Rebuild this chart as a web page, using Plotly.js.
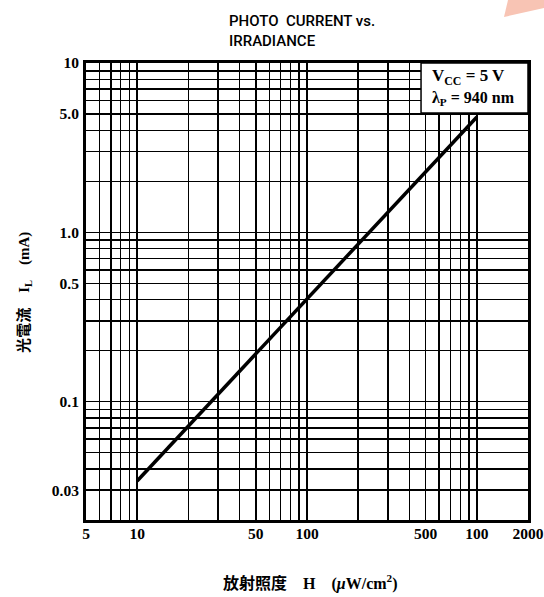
<!DOCTYPE html>
<html>
<head>
<meta charset="utf-8">
<script src="https://cdn.plot.ly/plotly-3.0.1.min.js"></script>
<style>html,body{margin:0;padding:0;background:#fff;}#chart{width:544px;height:597px;}</style>
</head>
<body>
<div id="chart"></div>
<script>
// ---- data ----
const irradiance = [10, 1000];          // H (µW/cm²)
const photoCurrent = [0.034, 4.8];      // I_L (mA)

const xGridVals = [5,6,7,8,9,10,20,30,40,50,60,70,80,90,100,200,300,400,500,600,700,800,900,1000,2000];
const xLabelVals = [5,10,50,100,500,1000,2000];
const xLabelText = ["5","10","50","100","500","100","2000"];

const yGridVals = [0.02,0.03,0.04,0.05,0.06,0.07,0.08,0.09,0.1,0.2,0.3,0.4,0.5,0.6,0.7,0.8,0.9,1,2,3,4,5,6,7,8,9,10];
const yLabelVals = [0.03,0.1,0.5,1,5,10];
const yLabelText = ["0.03","0.1","0.5","1.0","5.0","10"];

const titleText = "PHOTO  CURRENT vs.<br>IRRADIANCE";
const legendLines = ["V<sub>CC</sub> = 5 V", "λ<sub>P</sub> = 940 nm"];
const xTitle = "放射照度　H　(<i>μ</i>W/cm<sup>2</sup>)";
const yTitle = "光電流　I<sub>L</sub>　(mA)";

function labelsFor(grid, vals, texts){
  return grid.map(v => { const i = vals.indexOf(v); return i >= 0 ? texts[i] : ""; });
}

const serif = 'Liberation Serif, "Noto Sans CJK JP", serif';
const tickFont = {family: serif, size: 15.5, color: '#000', weight: 'bold'};
const titleFont = {family: 'Roboto, Liberation Sans, Arial, sans-serif', size: 15, color: '#000', weight: 500};

const trace = {
  x: irradiance, y: photoCurrent, type: 'scatter', mode: 'lines',
  line: {color: '#000', width: 3.5}, hoverinfo: 'skip', showlegend: false
};

const layout = {
  width: 544, height: 597,
  margin: {l: 86, r: 16, t: 63, b: 77},
  paper_bgcolor: '#fff', plot_bgcolor: '#fff',
  showlegend: false,
  xaxis: {
    type: 'log', range: [Math.log10(5), Math.log10(2000)],
    tickmode: 'array', tickvals: xGridVals, ticktext: labelsFor(xGridVals, xLabelVals, xLabelText),
    showgrid: true, gridcolor: '#000', gridwidth: 1.5,
    showline: true, mirror: true, linecolor: '#000', linewidth: 3,
    zeroline: false, ticks: '', tickfont: tickFont, ticklabelstandoff: -3
  },
  yaxis: {
    type: 'log', range: [Math.log10(0.02), 1],
    tickmode: 'array', tickvals: yGridVals, ticktext: labelsFor(yGridVals, yLabelVals, yLabelText),
    showgrid: true, gridcolor: '#000', gridwidth: 1.5,
    showline: true, mirror: true, linecolor: '#000', linewidth: 3,
    zeroline: false, ticks: '', tickfont: tickFont, ticklabelstandoff: 1
  },
  shapes: [
    {type: 'rect', xref: 'paper', yref: 'paper', x0: 0.758, x1: 1, y0: 0.8906, y1: 1,
     fillcolor: '#fff', line: {color: '#000', width: 1.5}, layer: 'above'},
    {type: 'path', xref: 'paper', yref: 'paper',
     path: 'M 0.9548 1.1379 L 1.0362 1.1379 L 1.0362 1.1204 L 0.9457 1.1007 Z',
     fillcolor: '#f8c4b4', line: {width: 0}}
  ],
  annotations: [
    {xref: 'paper', yref: 'paper', x: 0.319, y: 1.1165, xanchor: 'left', yanchor: 'top', align: 'left',
     text: titleText, showarrow: false, font: titleFont},
    {xref: 'paper', yref: 'paper', x: 0.779, y: 0.969, xanchor: 'left', yanchor: 'middle',
     text: legendLines[0], showarrow: false, font: {family: serif, size: 17, color: '#000', weight: 'bold'}},
    {xref: 'paper', yref: 'paper', x: 0.779, y: 0.923, xanchor: 'left', yanchor: 'middle',
     text: legendLines[1], showarrow: false, font: {family: serif, size: 16, color: '#000', weight: 'bold'}},
    {xref: 'paper', yref: 'paper', x: 0.507, y: -0.1357, xanchor: 'center', yanchor: 'middle',
     text: xTitle, showarrow: false, font: {family: serif, size: 16, color: '#000', weight: 'bold'}},
    {xref: 'paper', yref: 'paper', x: -0.138, y: 0.497, xanchor: 'center', yanchor: 'middle',
     text: yTitle, textangle: -90, showarrow: false, font: {family: serif, size: 15, color: '#000', weight: 'bold'}}
  ]
};

Plotly.newPlot('chart', [trace], layout, {staticPlot: true, displayModeBar: false});
</script>
</body>
</html>
